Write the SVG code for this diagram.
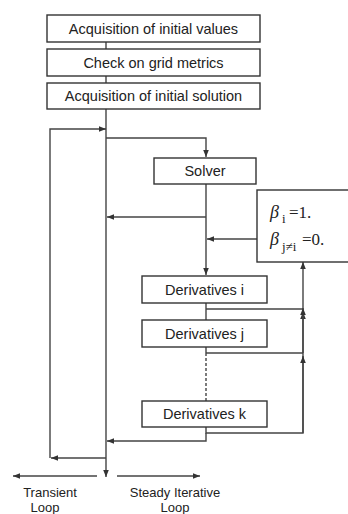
<svg xmlns="http://www.w3.org/2000/svg" width="348" height="514" viewBox="0 0 348 514">
<defs>
<marker id="ah" viewBox="0 0 10 10" refX="10" refY="5" markerWidth="7" markerHeight="7" markerUnits="userSpaceOnUse" orient="auto">
<path d="M0,1 L10,5 L0,9 z" fill="#333"/>
</marker>
</defs>
<style>
.box{fill:#fff;stroke:#333;stroke-width:1.4}
.t{font-family:"Liberation Sans",Arial,sans-serif;font-size:14.5px;fill:#222;text-anchor:middle}
.s{font-family:"Liberation Sans",Arial,sans-serif;font-size:13px;fill:#222;text-anchor:middle}
.ln{fill:none;stroke:#444;stroke-width:1.4}
.ar{fill:none;stroke:#444;stroke-width:1.4;marker-end:url(#ah)}
.b{font-family:"Liberation Serif","Times New Roman",serif;fill:#222}
</style>
<rect width="348" height="514" fill="#fff"/>
<g id="connectors">
<line class="ln" x1="106" y1="42" x2="106" y2="49"/>
<line class="ln" x1="106" y1="76" x2="106" y2="83"/>
<line class="ar" x1="106" y1="109" x2="106" y2="477"/>
<polyline class="ar" points="50,458 50,129 106,129"/>
<polyline class="ar" points="106,138 206,138 206,157"/>
<line class="ln" x1="206" y1="184" x2="206" y2="239"/>
<line class="ar" x1="206" y1="217" x2="107" y2="217"/>
<line class="ar" x1="257" y1="239" x2="207" y2="239"/>
<line class="ar" x1="206" y1="239" x2="206" y2="275"/>
<line class="ln" x1="206" y1="303" x2="206" y2="320"/>
<line class="ln" x1="206" y1="347" x2="206" y2="353"/>
<line class="ln" x1="206" y1="353" x2="206" y2="401" stroke-dasharray="3,2"/>
<polyline class="ln" points="206,309 303,309"/>
<polyline class="ln" points="206,353 303,353"/>
<polyline class="ln" points="206,427 206,433 303,433 303,357"/>
<line class="ar" x1="303" y1="357" x2="303" y2="312"/>
<line class="ar" x1="303" y1="312" x2="303" y2="262"/>
<line class="ar" x1="303" y1="433" x2="303" y2="356"/>
<line class="ar" x1="303" y1="353" x2="303" y2="308"/>
<polyline class="ar" points="206,433 206,441 107,441"/>
<polyline class="ar" points="106,458 51,458"/>
<line class="ar" x1="97" y1="476" x2="13" y2="476"/>
<line class="ar" x1="117" y1="476" x2="200" y2="476"/>
</g>
<g id="n1"><rect class="box" x="47" y="15" width="213" height="27"/><text class="t" x="153.5" y="33.5">Acquisition of initial values</text></g>
<g id="n2"><rect class="box" x="47" y="49" width="213" height="27"/><text class="t" x="153.5" y="67.5">Check on grid metrics</text></g>
<g id="n3"><rect class="box" x="47" y="83" width="213" height="26"/><text class="t" x="153.5" y="101">Acquisition of initial solution</text></g>
<g id="solver"><rect class="box" x="154" y="158" width="102" height="26"/><text class="t" x="205" y="176">Solver</text></g>
<g id="beta"><rect class="box" x="257" y="190" width="95" height="72"/>
<text class="b" x="270" y="218" font-size="18" font-style="italic">β</text><text class="b" x="282" y="223" font-size="13">i</text><text class="b" x="289" y="218" font-size="17">=1.</text>
<text class="b" x="270" y="245" font-size="18" font-style="italic">β</text><text class="b" x="282" y="251" font-size="13">j≠i</text><text class="b" x="302" y="245" font-size="17">=0.</text>
</g>
<g id="di"><rect class="box" x="142" y="276" width="125" height="27"/><text class="t" x="204.5" y="294.5">Derivatives i</text></g>
<g id="dj"><rect class="box" x="142" y="320" width="125" height="27"/><text class="t" x="204.5" y="338.5">Derivatives j</text></g>
<g id="dk"><rect class="box" x="142" y="401" width="125" height="26"/><text class="t" x="204.5" y="419">Derivatives k</text></g>
<g id="labels">
<text class="s" x="50" y="497">Transient</text>
<text class="s" x="45" y="512">Loop</text>
<text class="s" x="175" y="497">Steady Iterative</text>
<text class="s" x="175" y="512">Loop</text>
</g>
</svg>
